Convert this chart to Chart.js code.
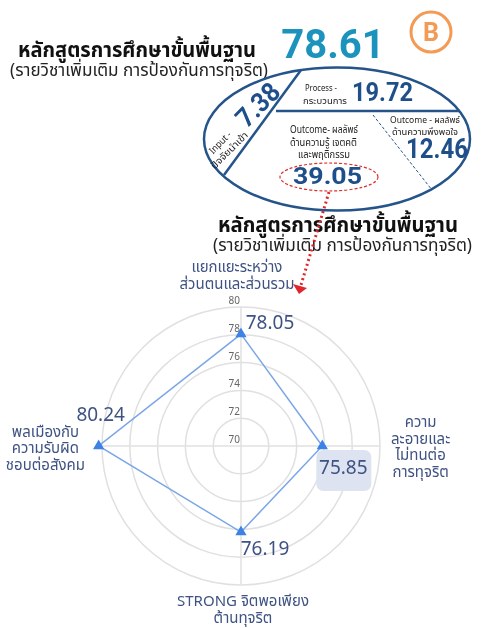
<!DOCTYPE html>
<html lang="th">
<head>
<meta charset="UTF-8">
<title>หลักสูตรการศึกษาขั้นพื้นฐาน</title>
<script src="https://cdn.jsdelivr.net/npm/chart.js"></script>
<style>
  html, body { margin: 0; padding: 0; background: #fff; }
  #wrap { position: relative; width: 482px; height: 628px; overflow: hidden; }
  #radar { position: absolute; left: 0; top: 0; }
  #info { position: absolute; left: 0; top: 0; }
</style>
</head>
<body>
<div id="wrap">
  <canvas id="radar" width="482" height="628"></canvas>
  <svg id="info" width="482" height="628" xmlns="http://www.w3.org/2000/svg"
       font-family="'Noto Sans Thai', 'Noto Sans', sans-serif">
    <!-- header -->
    <text x="18" y="57" font-size="21" font-weight="bold" fill="#111" textLength="238" lengthAdjust="spacingAndGlyphs">หลักสูตรการศึกษาขั้นพื้นฐาน</text>
    <text x="10" y="76" font-size="18" fill="#222" textLength="258" lengthAdjust="spacingAndGlyphs">(รายวิชาเพิ่มเติม การป้องกันการทุจริต)</text>
    <text x="333" y="58" font-size="40" font-weight="bold" fill="#1b93bd" text-anchor="middle" font-family="Roboto, sans-serif">78.61</text>
    <circle cx="431" cy="32" r="20" fill="none" stroke="#f39a55" stroke-width="3"/>
    <text x="431" y="41" font-size="25" font-weight="bold" fill="#f39a55" text-anchor="middle" font-family="Roboto, sans-serif">B</text>

    <!-- ellipse diagram -->
    <ellipse cx="337" cy="139" rx="133" ry="71.5" fill="none" stroke="#24548a" stroke-width="2.5"/>
    <line x1="301" y1="70" x2="224" y2="175" stroke="#24548a" stroke-width="2.5"/>
    <line x1="276" y1="111" x2="460" y2="111" stroke="#24548a" stroke-width="2.5"/>
    <line x1="373" y1="115" x2="432" y2="190" stroke="#24548a" stroke-width="1" stroke-dasharray="3,2"/>

    <g transform="translate(258,105) rotate(-45)" fill="#1f4f8b" font-family="Roboto, sans-serif">
      <text x="0" y="9" font-size="27" font-weight="bold" text-anchor="middle" textLength="50" lengthAdjust="spacingAndGlyphs">7.38</text>
    </g>
    <g transform="translate(226,147) rotate(-45)" fill="#222">
      <text x="-1" y="-4" font-size="9.5" text-anchor="middle" textLength="27" lengthAdjust="spacingAndGlyphs">Input -</text>
      <text x="0" y="8" font-size="9.5" text-anchor="middle" textLength="48" lengthAdjust="spacingAndGlyphs">ปัจจัยนำเข้า</text>
    </g>

    <text x="305" y="91" font-size="9.5" fill="#222" textLength="32" lengthAdjust="spacingAndGlyphs">Process -</text>
    <text x="303" y="104" font-size="9.5" fill="#222" textLength="44" lengthAdjust="spacingAndGlyphs">กระบวนการ</text>
    <text x="352" y="101" font-size="25" font-weight="bold" fill="#1f4f8b" font-family="Roboto, sans-serif" textLength="61" lengthAdjust="spacingAndGlyphs">19.72</text>

    <text x="290" y="133" font-size="10" fill="#222" textLength="68" lengthAdjust="spacingAndGlyphs">Outcome- ผลลัพธ์</text>
    <text x="290" y="146" font-size="10" fill="#222" textLength="67" lengthAdjust="spacingAndGlyphs">ด้านความรู้ เจตคติ</text>
    <text x="298" y="158" font-size="10" fill="#222" textLength="52" lengthAdjust="spacingAndGlyphs">และพฤติกรรม</text>
    <ellipse cx="329" cy="177" rx="49" ry="14" fill="none" stroke="#d9302c" stroke-width="1.2" stroke-dasharray="3,2"/>
    <text x="293" y="184" font-size="24" font-weight="bold" fill="#1f4f8b" font-family="Roboto, sans-serif" textLength="69" lengthAdjust="spacingAndGlyphs">39.05</text>

    <text x="390" y="123" font-size="9.5" fill="#222" textLength="70" lengthAdjust="spacingAndGlyphs">Outcome - ผลลัพธ์</text>
    <text x="392" y="135" font-size="9.5" fill="#222" textLength="66" lengthAdjust="spacingAndGlyphs">ด้านความพึงพอใจ</text>
    <text x="406" y="158" font-size="27" font-weight="bold" fill="#1f4f8b" font-family="Roboto, sans-serif" textLength="62" lengthAdjust="spacingAndGlyphs">12.46</text>

    <!-- second header -->
    <text x="218" y="232" font-size="21" font-weight="bold" fill="#111" textLength="240" lengthAdjust="spacingAndGlyphs">หลักสูตรการศึกษาขั้นพื้นฐาน</text>
    <text x="213" y="251" font-size="18" fill="#222" textLength="259" lengthAdjust="spacingAndGlyphs">(รายวิชาเพิ่มเติม การป้องกันการทุจริต)</text>

    <!-- dotted red pointer -->
    <line x1="329" y1="192" x2="301" y2="285" stroke="#e0262a" stroke-width="3" stroke-dasharray="2,3"/>
    <path d="M293,284 L299,294 L307,288 Z" fill="#e0262a"/>
  </svg>
</div>
<script>
// radar data: clockwise from the top
const categories = [
  ['แยกแยะระหว่าง', 'ส่วนตนและส่วนรวม'],
  ['ความ', 'ละอายและ', 'ไม่ทนต่อ', 'การทุจริต'],
  ['STRONG จิตพอเพียง', 'ต้านทุจริต'],
  ['พลเมืองกับ', 'ความรับผิด', 'ชอบต่อสังคม']
];
const scores = [78.05, 75.85, 76.19, 80.24];
const tickValues = [70, 72, 74, 76, 78, 80];

const thaiFont = "'Noto Sans Thai', 'Noto Sans', sans-serif";
const labelColor = '#3e5384';

// point labels, tick labels and value labels drawn on top of the radial scale
const overlay = {
  id: 'overlay',
  afterDatasetsDraw(chart) {
    const ctx = chart.ctx;
    const r = chart.scales.r;
    const R = r.drawingArea;
    ctx.save();

    // tick labels, just left of the vertical axis line
    ctx.font = '10px ' + thaiFont;
    ctx.fillStyle = '#666';
    ctx.textAlign = 'right';
    ctx.textBaseline = 'middle';
    tickValues.forEach(v => {
      const d = r.getDistanceFromCenterForValue(v);
      ctx.fillText(String(v), r.xCenter - 1, r.yCenter - d - 5);
    });

    // category labels
    ctx.font = '15px ' + thaiFont;
    ctx.fillStyle = labelColor;
    ctx.textAlign = 'center';
    ctx.textBaseline = 'middle';
    const lh = 16.5;
    const gaps = [13, 13, 10, 14];
    const shift = [[-4, 0], [-2, 3], [2, 0], [-3, 4]];
    categories.forEach((lines, i) => {
      const p = r.getPointPosition(i, R + gaps[i]);
      const w = Math.max(...lines.map(s => ctx.measureText(s).width));
      const h = lines.length * lh;
      let cx = p.x, top = p.y - h / 2;
      if (i === 0) top = p.y - h;
      if (i === 2) top = p.y;
      if (i === 1) cx = p.x + w / 2;
      if (i === 3) cx = p.x - w / 2;
      cx += shift[i][0];
      top += shift[i][1];
      lines.forEach((s, k) => ctx.fillText(s, cx, top + lh * (k + 0.5)));
    });

    // value labels
    const offs = [[29, -9], [21, 24], [24, 19], [2, -29]];
    const pts = chart.getDatasetMeta(0).data;
    ctx.font = '19px ' + thaiFont;
    pts.forEach((pt, i) => {
      const x = pt.x + offs[i][0], y = pt.y + offs[i][1];
      const txt = scores[i].toFixed(2);
      if (i === 1) {
        ctx.fillStyle = '#dde3f0';
        ctx.beginPath();
        ctx.roundRect(x - 27, y - 20, 55, 41, 7);
        ctx.fill();
      }
      ctx.fillStyle = labelColor;
      ctx.fillText(txt, x, y);
    });
    ctx.restore();
  }
};

new Chart(document.getElementById('radar'), {
  type: 'radar',
  data: {
    labels: categories,
    datasets: [{
      data: scores,
      fill: false,
      borderColor: '#7aa6e6',
      borderWidth: 1.5,
      pointStyle: 'triangle',
      pointRadius: 5,
      pointBackgroundColor: '#3d82e6',
      pointBorderColor: '#3d82e6',
      clip: false
    }]
  },
  options: {
    responsive: false,
    animation: false,
    layout: { padding: { left: 102, right: 102, top: 307, bottom: 43 } },
    plugins: { legend: { display: false }, tooltip: { enabled: false } },
    scales: {
      r: {
        min: 70,
        max: 80,
        ticks: { stepSize: 2, display: false },
        grid: { circular: true, color: '#e0e0e0', lineWidth: 1.5 },
        angleLines: { color: '#e0e0e0', lineWidth: 1.5 },
        pointLabels: { display: false }
      }
    }
  },
  plugins: [overlay]
});
</script>
</body>
</html>
